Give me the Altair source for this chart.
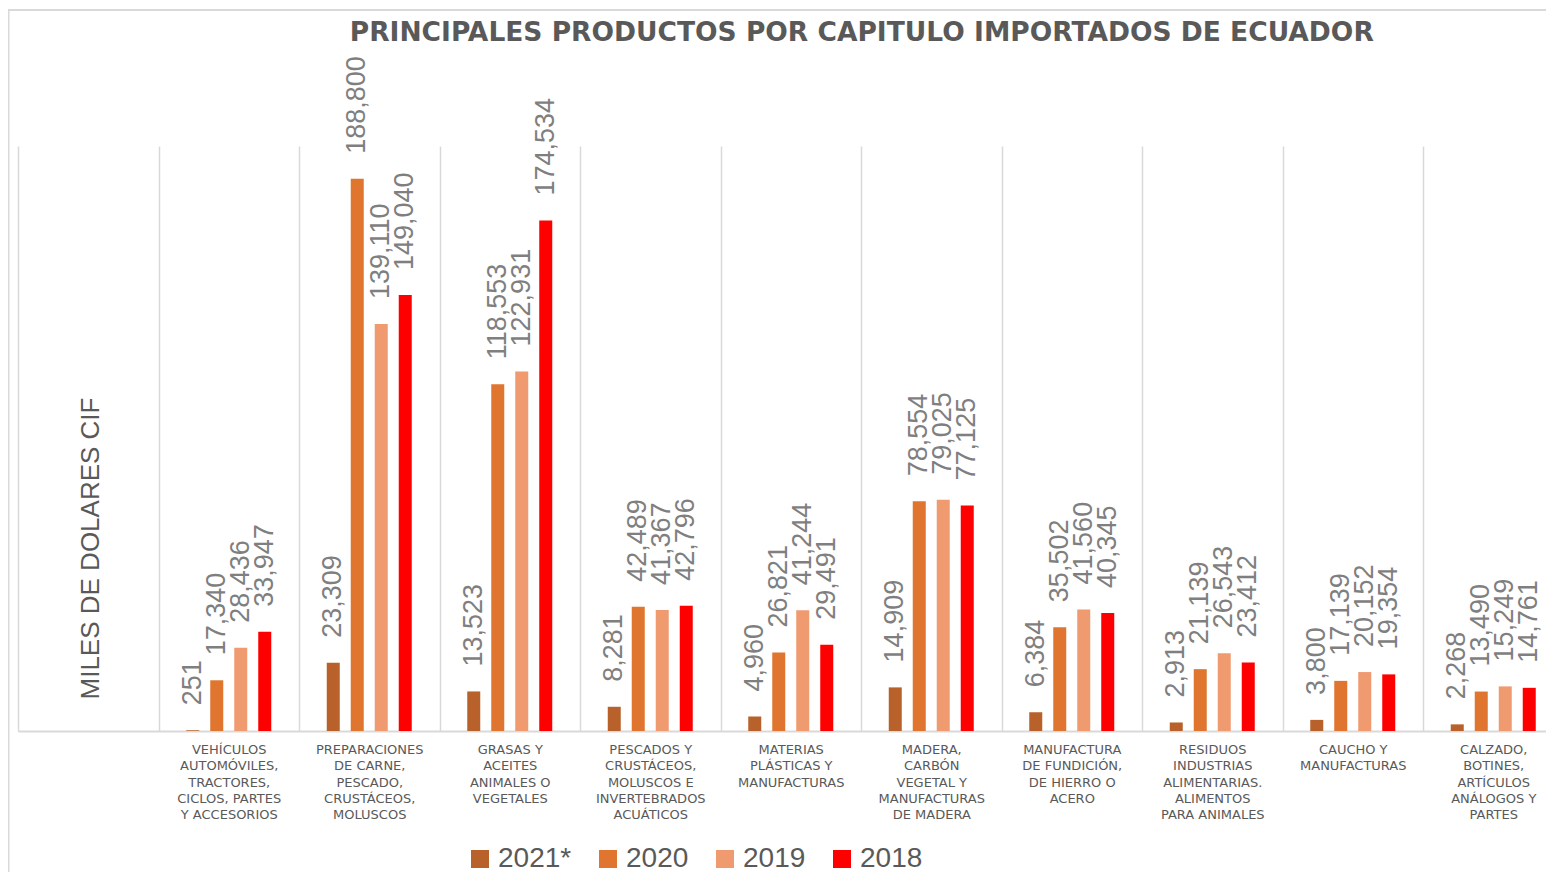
import altair as alt
import pandas as pd

# ---- data ----
categories = [
    "VEHÍCULOS|AUTOMÓVILES,|TRACTORES,|CICLOS, PARTES|Y ACCESORIOS",
    "PREPARACIONES|DE CARNE,|PESCADO,|CRUSTÁCEOS,|MOLUSCOS",
    "GRASAS Y|ACEITES|ANIMALES O|VEGETALES",
    "PESCADOS Y|CRUSTÁCEOS,|MOLUSCOS E|INVERTEBRADOS|ACUÁTICOS",
    "MATERIAS|PLÁSTICAS Y|MANUFACTURAS",
    "MADERA,|CARBÓN|VEGETAL Y|MANUFACTURAS|DE MADERA",
    "MANUFACTURA|DE FUNDICIÓN,|DE HIERRO O|ACERO",
    "RESIDUOS|INDUSTRIAS|ALIMENTARIAS.|ALIMENTOS|PARA ANIMALES",
    "CAUCHO Y|MANUFACTURAS",
    "CALZADO,|BOTINES,|ARTÍCULOS|ANÁLOGOS Y|PARTES",
]
years = ["2021*", "2020", "2019", "2018"]
v2021 = [251, 23309, 13523, 8281, 4960, 14909, 6384, 2913, 3800, 2268]
v2020 = [17340, 188800, 118553, 42489, 26821, 78554, 35502, 21139, 17139, 13490]
v2019 = [28436, 139110, 122931, 41367, 41244, 79025, 41560, 26543, 20152, 15249]
v2018 = [33947, 149040, 174534, 42796, 29491, 77125, 40345, 23412, 19354, 14761]
colors = ["#B8612A", "#DF752F", "#F09A70", "#FF0000"]

title_text = "PRINCIPALES PRODUCTOS POR CAPITULO IMPORTADOS DE ECUADOR"
y_title = "MILES DE DOLARES CIF"

rows = []
for i, c in enumerate(categories):
    for yr, vals in zip(years, [v2021, v2020, v2019, v2018]):
        rows.append({"cat": c, "year": yr, "value": vals[i]})
df = pd.DataFrame(rows)

x_domain = [""] + categories
GRID = "#d9d9d9"
TXT = "#595959"

x_enc = alt.X(
    "cat:N",
    sort=x_domain,
    scale=alt.Scale(domain=x_domain, paddingInner=0, paddingOuter=0),
    axis=alt.Axis(
        title=None,
        labelExpr="split(datum.label, '|')",
        labelAngle=0,
        labelFont="DejaVu Sans",
        labelFontSize=13,
        labelColor=TXT,
        labelLineHeight=16.3,
        labelBaseline="top",
        labelPadding=12.5,
        labelLimit=0,
        ticks=False,
        tickBand="extent",
        grid=True,
        gridColor=GRID,
        gridWidth=1.5,
        domain=True,
        domainColor=GRID,
        domainWidth=2,
    ),
)
xoff_enc = alt.XOffset(
    "year:N",
    sort=years,
    scale=alt.Scale(domain=years, range=[27.75, 112.75], paddingInner=0.458, paddingOuter=0),
)
y_enc = alt.Y(
    "value:Q",
    scale=alt.Scale(domain=[0, 200000], nice=False),
    axis=alt.Axis(
        title=y_title,
        titleFont="Liberation Sans",
        titleFontSize=26,
        titleFontWeight="normal",
        titleColor=TXT,
        titleX=72,
        titleY=402,
        titleAngle=270,
        titleAlign="center",
        titleBaseline="middle",
        labels=False,
        ticks=False,
        domain=False,
        grid=False,
    ),
)

base = alt.Chart(df)

bars = base.mark_bar().encode(
    x=x_enc,
    xOffset=xoff_enc,
    y=y_enc,
    color=alt.Color(
        "year:N",
        sort=years,
        scale=alt.Scale(domain=years, range=colors),
        legend=alt.Legend(
            title=None,
            orient="none",
            legendX=448,
            legendY=699,
            direction="horizontal",
            symbolType="square",
            symbolSize=324,
            symbolStrokeWidth=0,
            labelFont="Liberation Sans",
            labelFontSize=28,
            labelColor=TXT,
            labelOffset=4,
            columnPadding=22,
        ),
    ),
)

labels = base.mark_text(
    angle=270,
    align="left",
    baseline="middle",
    dx=25,
    font="Liberation Sans",
    fontSize=27,
    color="#7f7f7f",
).encode(
    x=alt.X("cat:N", sort=x_domain),
    xOffset=alt.XOffset("year:N", sort=years),
    y=alt.Y("value:Q"),
    text=alt.Text("value:Q", format=",d"),
)

frame = alt.Chart(pd.DataFrame({"k": [0]})).mark_rect(
    filled=False, stroke=GRID, strokeWidth=2
).encode(
    x=alt.value(-9.5), x2=alt.value(1600), y=alt.value(-136), y2=alt.value(900)
)

chart = (
    alt.layer(frame, bars, labels)
    .properties(
        width=1545.5,
        height=585,
        padding={"left": 10, "top": 138, "right": -17.5, "bottom": 141},
        autosize=alt.AutoSizeParams(type="none"),
        title=alt.TitleParams(
            text=title_text,
            font="DejaVu Sans",
            fontSize=26.5,
            fontWeight="bold",
            color=TXT,
            anchor="middle",
            baseline="alphabetic",
            dx=71,
            offset=-58,
        ),
    )
    .configure_view(stroke=None)
)

chart.save("out.html", embed_options={"renderer": "svg", "actions": False})
